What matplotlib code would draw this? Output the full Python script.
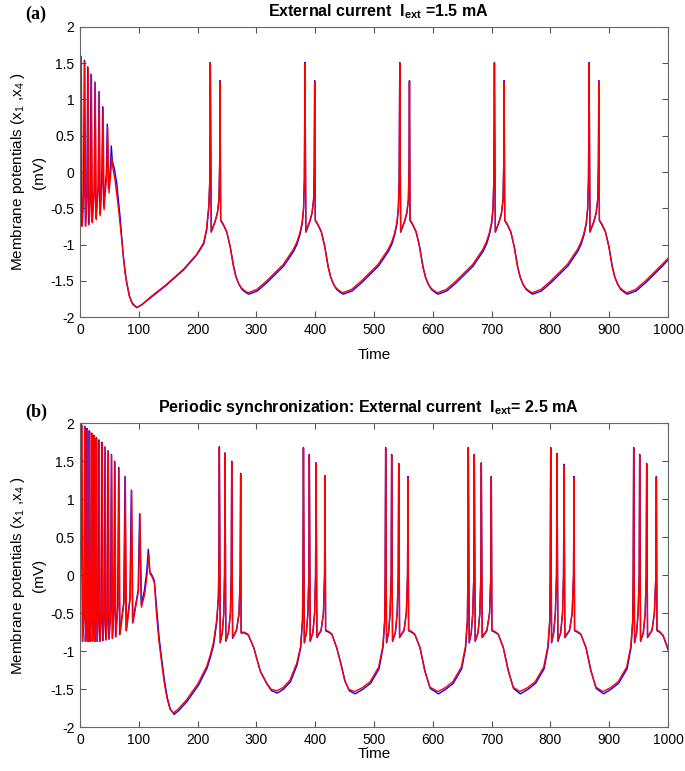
import matplotlib.pyplot as plt

plt.rcParams['font.family'] = ['Liberation Sans', 'DejaVu Sans']
plt.rcParams['mathtext.fontset'] = 'custom'
plt.rcParams['mathtext.rm'] = 'Liberation Sans'
plt.rcParams['mathtext.bf'] = 'Liberation Sans:bold'
plt.rcParams['mathtext.default'] = 'regular'
plt.rcParams['axes.unicode_minus'] = False

# panel (a): I_ext = 1.5 mA  -- (time, potential)
a_blue = [(0, -0.2), (1.1, 1.60), (2.7, -0.74), (6, -0.3), (7.4, 1.54), (9, -0.74), (11.7, -0.3), (13.1, 1.45),
          (14.7, -0.72), (17.3, -0.3), (18.7, 1.35), (20.3, -0.69), (24, -0.25), (25.5, 1.24), (27.1, -0.64),
          (30.8, -0.2), (32.3, 1.11), (33.9, -0.58), (37.1, -0.12), (38.6, 0.90), (40.2, -0.48), (44.8, -0.02),
          (46.4, 0.66), (48.2, -0.22), (51.8, 0.05), (53.2, 0.36), (55, 0.15), (58.3, 0.05), (62.4, -0.15),
          (68, -0.61), (73.6, -1.16), (79.3, -1.53), (84, -1.71), (88, -1.80), (96.4, -1.87), (105, -1.83),
          (119, -1.74), (147, -1.56), (176, -1.35), (198, -1.15), (210.5, -0.99), (215.5, -0.80), (219.2, -0.47),
          (220.8, -0.1), (221.6, 1.51),
          (223.2, -0.83), (229.6, -0.69), (233.6, -0.57), (236.4, -0.38), (237.5, 0.1), (238.2, 1.26), (239.2, -0.67),
          (243.8, -0.73), (249.6, -0.83), (255.5, -1.03), (261.5, -1.31), (265.5, -1.45), (270.3, -1.55),
          (275.5, -1.62), (281.6, -1.66), (287, -1.685), (301.6, -1.64), (318.6, -1.52), (346.6, -1.295),
          (363.6, -1.09), (369.4, -0.99), (374.2, -0.86),
          (378, -0.71), (380.3, -0.5), (381.6, -0.1), (382.6, 1.51), (384.1, -0.83), (390.6, -0.69), (394.6, -0.57),
          (397.3, -0.38), (398.4, 0.1), (399.1, 1.26), (400.1, -0.67), (404.6, -0.73), (410.5, -0.83),
          (416.4, -1.03), (422.3, -1.31), (426.5, -1.45), (431.2, -1.55), (436.5, -1.62), (442.6, -1.66),
          (447.6, -1.685),
          (462.8, -1.64), (479.8, -1.52), (507.8, -1.295), (524.8, -1.09), (530.6, -0.99), (535.4, -0.86),
          (539.2, -0.71), (541.5, -0.5), (542.8, -0.1), (543.8, 1.51), (545.3, -0.83), (551.8, -0.69), (555.8, -0.57),
          (558.5, -0.38), (559.6, 0.1), (560.3, 1.26), (561.3, -0.67), (565.8, -0.73), (571.7, -0.83),
          (577.6, -1.03), (583.5, -1.31), (587.7, -1.45), (592.4, -1.55), (597.7, -1.62), (603.8, -1.66),
          (608.8, -1.685),
          (623.8, -1.64), (640.8, -1.52), (668.8, -1.295), (685.8, -1.09), (691.6, -0.99), (696.4, -0.86),
          (700.2, -0.71), (702.5, -0.5), (703.8, -0.1), (704.8, 1.51), (706.3, -0.83), (712.8, -0.69), (716.8, -0.57),
          (719.5, -0.38), (720.6, 0.1), (721.3, 1.26), (722.3, -0.67), (726.8, -0.73), (732.7, -0.83),
          (738.6, -1.03), (744.5, -1.31), (748.7, -1.45), (753.4, -1.55), (758.7, -1.62), (764.8, -1.66),
          (769.8, -1.685),
          (784.8, -1.64), (801.8, -1.52), (829.8, -1.295), (846.8, -1.09), (852.6, -0.99), (857.4, -0.86),
          (861.2, -0.71), (863.5, -0.5), (864.8, -0.1), (865.8, 1.51), (867.3, -0.83), (873.8, -0.69), (877.8, -0.57),
          (880.5, -0.38), (881.6, 0.1), (882.3, 1.26), (883.3, -0.67), (887.8, -0.73), (893.7, -0.83),
          (899.6, -1.03), (905.5, -1.31), (909.7, -1.45), (914.4, -1.55), (919.7, -1.62), (925.8, -1.66),
          (930.8, -1.685),
          (945.8, -1.64), (962.8, -1.52), (990.8, -1.295), (1000, -1.21)]

a_red = [(0, -0.3), (2.2, 1.58), (3.8, -0.75), (6.8, -0.3), (8.2, 1.53), (9.8, -0.75), (12.4, -0.3), (13.8, 1.44),
         (15.4, -0.73), (18.1, -0.3), (19.5, 1.34), (21.1, -0.70), (24.5, -0.25), (26, 1.23), (27.6, -0.66),
         (31.2, -0.22), (32.8, 1.10), (34.4, -0.60), (37.7, -0.15), (39.3, 0.89), (40.9, -0.52), (45.3, -0.05),
         (47, 0.62), (49.3, -0.29), (52.5, 0.0), (53.9, 0.21), (56, 0.05), (59.5, -0.11), (65, -0.47),
         (70.9, -0.93), (76.5, -1.39), (83.9, -1.71), (90, -1.83), (97, -1.87), (105, -1.83), (119, -1.73),
         (147, -1.55), (176, -1.34), (198, -1.14), (210, -0.98), (215, -0.79), (219, -0.47), (220.8, -0.1),
         (221.7, 1.5),
         (223.2, -0.82), (229.6, -0.68), (233.6, -0.56), (236.4, -0.38), (237.5, 0.1), (238.2, 1.25), (239.2, -0.66),
         (243.8, -0.72), (249.4, -0.82), (255, -1.02), (260.8, -1.30), (265, -1.44), (269.3, -1.53),
         (274.5, -1.60), (280.6, -1.64), (286, -1.665),
         (300.6, -1.62), (317.6, -1.50), (345.6, -1.275), (362.6, -1.07), (368.6, -0.97), (373.6, -0.85),
         (377.6, -0.70), (380.1, -0.50), (381.6, -0.10), (382.6, 1.50), (384.1, -0.82), (390.6, -0.68),
         (394.6, -0.56), (397.3, -0.38), (398.4, 0.10), (399.1, 1.25), (400.1, -0.66), (404.6, -0.72),
         (410.3, -0.82), (415.9, -1.02), (421.6, -1.30), (425.8, -1.44), (430.2, -1.53), (435.5, -1.60),
         (441.6, -1.64), (446.6, -1.665),
         (461.8, -1.62), (478.8, -1.50), (506.8, -1.275), (523.8, -1.07), (529.8, -0.97), (534.8, -0.85),
         (538.8, -0.70), (541.3, -0.50), (542.8, -0.10), (543.8, 1.50), (545.3, -0.82), (551.8, -0.68),
         (555.8, -0.56), (558.5, -0.38), (559.6, 0.10), (560.3, 1.25), (561.3, -0.66), (565.8, -0.72),
         (571.5, -0.82), (577.1, -1.02), (582.8, -1.30), (587, -1.44), (591.4, -1.53), (596.7, -1.60),
         (602.8, -1.64), (607.8, -1.665),
         (622.8, -1.62), (639.8, -1.50), (667.8, -1.275), (684.8, -1.07), (690.8, -0.97), (695.8, -0.85),
         (699.8, -0.70), (702.3, -0.50), (703.8, -0.10), (704.8, 1.50), (706.3, -0.82), (712.8, -0.68),
         (716.8, -0.56), (719.5, -0.38), (720.6, 0.10), (721.3, 1.25), (722.3, -0.66), (726.8, -0.72),
         (732.5, -0.82), (738.1, -1.02), (743.8, -1.30), (748, -1.44), (752.4, -1.53), (757.7, -1.60),
         (763.8, -1.64), (768.8, -1.665),
         (783.8, -1.62), (800.8, -1.50), (828.8, -1.275), (845.8, -1.07), (851.8, -0.97), (856.8, -0.85),
         (860.8, -0.70), (863.3, -0.50), (864.8, -0.10), (865.8, 1.50), (867.3, -0.82), (873.8, -0.68),
         (877.8, -0.56), (880.5, -0.38), (881.6, 0.10), (882.3, 1.25), (883.3, -0.66), (887.8, -0.72),
         (893.5, -0.82), (899.1, -1.02), (904.8, -1.30), (909, -1.44), (913.4, -1.53), (918.7, -1.60),
         (924.8, -1.64), (929.8, -1.665),
         (944.8, -1.62), (961.8, -1.50), (989.8, -1.275), (1000, -1.19)]

# panel (b): I_ext = 2.5 mA
b_blue = [(0, -0.6), (2.8, 1.98), (4.0, -0.87), (6.7, -0.5), (7.9, 1.96), (9.1, -0.87), (10.9, -0.5), (11.9, 1.93),
          (13.0, -0.87), (14.8, -0.5), (15.8, 1.90), (16.9, -0.87), (18.8, -0.5), (19.8, 1.87), (20.9, -0.87),
          (22.8, -0.5), (23.8, 1.84), (24.9, -0.87), (26.7, -0.5), (27.7, 1.81), (28.9, -0.87), (31.2, -0.5),
          (32.3, 1.78), (33.6, -0.87), (36.2, -0.5), (37.4, 1.75), (38.7, -0.86), (41.3, -0.5), (42.5, 1.69),
          (43.9, -0.85), (46.4, -0.5), (47.6, 1.64), (49.0, -0.84), (52.0, -0.45), (53.3, 1.59), (54.8, -0.83),
          (57.5, -0.45), (58.9, 1.50), (60.4, -0.81), (64.1, -0.4), (65.7, 1.42), (67.4, -0.78), (74.4, -0.35),
          (76.5, 1.30), (78.4, -0.73), (84.9, -0.3), (87.3, 1.12), (89.4, -0.62), (98.9, -0.2), (101.4, 0.81),
          (104.2, -0.39), (109.5, -0.2), (113.5, 0.05), (116.2, 0.34), (118.5, 0.05), (122.4, 0.0), (126.4, -0.07),
          (130.5, -0.45), (134.5, -0.82), (138.5, -1.08), (143.5, -1.38), (148.5, -1.61), (153.5, -1.76),
          (160, -1.83), (168, -1.78), (182, -1.66), (202, -1.44), (216.2, -1.22), (222.5, -1.06), (227.4, -0.91),
          (232.8, -0.60), (235.5, -0.28),
          (236.2, 0.2), (237, 1.69), (238.5, -0.89), (242, -0.76), (244.5, -0.5), (245.8, 0.0), (246.6, 1.61),
          (248, -0.87), (252.5, -0.76), (255.8, -0.5), (257.2, 0.0), (258, 1.50), (259.5, -0.83), (266, -0.73),
          (270.5, -0.5), (272.4, 0.0), (273.2, 1.34), (274, -0.76), (280, -0.76), (286.5, -0.79), (295.8, -0.96),
          (307, -1.27), (318.5, -1.44), (326, -1.52), (335.5, -1.55), (346, -1.50), (358, -1.40), (369.2, -1.18),
          (375.4, -0.95), (378.4, -0.6), (379.2, 0.0), (380, 1.68), (381.5, -0.89), (385, -0.76), (387.5, -0.5),
          (389.2, 0.0), (390, 1.59), (391.5, -0.87), (396, -0.76), (399, -0.5), (400.6, 0.0), (401.4, 1.48),
          (402.9, -0.82), (410, -0.73), (414, -0.5), (415.9, 0.0), (416.7, 1.31), (417.7, -0.73), (423, -0.75),
          (428.5, -0.78), (436.8, -0.96), (444, -1.17), (451, -1.40), (458, -1.52), (468, -1.56),
          (481, -1.50), (494.4, -1.42), (508.6, -1.23), (515.3, -0.95), (518.3, -0.6), (519, 0.0), (519.8, 1.68),
          (521.3, -0.89), (524.8, -0.76), (527.3, -0.5), (529.2, 0.0), (530, 1.59), (531.5, -0.87), (536.3, -0.76),
          (539.4, -0.5), (541.2, 0.0), (542, 1.47), (543.5, -0.82), (551, -0.73), (555, -0.5), (557, 0.0),
          (557.8, 1.30), (558.8, -0.73), (563.8, -0.75), (569.5, -0.78), (578.5, -0.96), (587, -1.27),
          (595.7, -1.49), (609.8, -1.56),
          (622, -1.50), (635, -1.42), (649.2, -1.23), (655.9, -0.95), (658.9, -0.6), (659.6, 0.0), (660.4, 1.68),
          (661.9, -0.89), (665.4, -0.76), (667.9, -0.5), (669.8, 0.0), (670.6, 1.59), (672.1, -0.87),
          (676.9, -0.76), (680, -0.5), (681.7, 0.0), (682.5, 1.48), (684, -0.82), (692, -0.73), (696.5, -0.5),
          (698.7, 0.0), (699.5, 1.30), (700.5, -0.73), (705.5, -0.75), (711.5, -0.78), (720.2, -0.96),
          (729, -1.27), (737.4, -1.49), (748.7, -1.56),
          (762, -1.50), (775, -1.42), (789.3, -1.23), (796, -0.95), (799, -0.6), (799.7, 0.0), (800.5, 1.68),
          (802, -0.89), (805.5, -0.76), (808.4, -0.5), (810.4, 0.0), (811.2, 1.60), (812.7, -0.87), (817.5, -0.76),
          (820.6, -0.5), (822.3, 0.0), (823.1, 1.46), (824.6, -0.82), (832.5, -0.73), (837, -0.5), (839.3, 0.0),
          (840.1, 1.30), (841.1, -0.73), (846, -0.75), (852, -0.78), (860.8, -0.96), (869.5, -1.27), (878, -1.49),
          (890.5, -1.56),
          (903, -1.50), (916.2, -1.42), (930.4, -1.23), (937.1, -0.95), (940.1, -0.6), (940.8, 0.0), (941.6, 1.68),
          (943.1, -0.89), (946.6, -0.76), (949.1, -0.5), (951, 0.0), (951.8, 1.59), (953.3, -0.87), (958, -0.76),
          (961.2, -0.5), (962.9, 0.0), (963.7, 1.47), (965.2, -0.82), (972.7, -0.73), (976.8, -0.5), (979.4, 0.0),
          (980.2, 1.30), (981.2, -0.73), (986, -0.75), (992, -0.80), (1000, -0.98)]

b_red = [(0, -0.6), (3.4, 1.97), (4.6, -0.87), (7.3, -0.5), (8.5, 1.95), (9.7, -0.87), (11.5, -0.5), (12.5, 1.92),
         (13.6, -0.87), (15.4, -0.5), (16.4, 1.89), (17.5, -0.87), (19.4, -0.5), (20.4, 1.86), (21.5, -0.87),
         (23.4, -0.5), (24.4, 1.83), (25.5, -0.87), (27.3, -0.5), (28.3, 1.80), (29.5, -0.87), (31.8, -0.5),
         (32.9, 1.77), (34.2, -0.87), (36.8, -0.5), (38, 1.74), (39.3, -0.86), (41.9, -0.5), (43.1, 1.68),
         (44.5, -0.85), (47, -0.5), (48.2, 1.63), (49.6, -0.84), (52.6, -0.45), (53.9, 1.58), (55.4, -0.83),
         (58.1, -0.45), (59.5, 1.49), (61, -0.81), (64.7, -0.4), (66.3, 1.41), (68, -0.78), (75, -0.35),
         (77.1, 1.29), (79, -0.73), (85.5, -0.3), (87.9, 1.11), (90, -0.63), (99.5, -0.2), (102, 0.80),
         (104.5, -0.42), (110, -0.25), (114, 0.0), (117, 0.28), (119, 0.02), (122.5, -0.02), (126.5, -0.1),
         (130, -0.5), (134, -0.85), (138, -1.1), (143, -1.4), (148, -1.62), (153, -1.76), (159, -1.81),
         (167, -1.76), (181, -1.64), (201, -1.42), (215.4, -1.20), (221.5, -1.05), (226.8, -0.89), (232.4, -0.59),
         (235.3, -0.28), (236.2, 0.2),
         (237, 1.68), (238.5, -0.88), (242, -0.75), (244.5, -0.5), (245.8, 0.0), (246.6, 1.60), (248, -0.86),
         (252.5, -0.75), (255.8, -0.5), (257.2, 0.0), (258, 1.49), (259.5, -0.82), (266, -0.72), (270.5, -0.5),
         (272.4, 0.0), (273.2, 1.33), (274, -0.75), (280, -0.75), (286, -0.78), (295, -0.94), (306, -1.25),
         (317.5, -1.42), (325, -1.50), (334.5, -1.52), (345, -1.48), (357, -1.38), (368.5, -1.16), (375, -0.94),
         (378.3, -0.59), (379.2, 0.0), (380, 1.67), (381.5, -0.88), (385, -0.75), (387.5, -0.5), (389.2, 0.0),
         (390, 1.58), (391.5, -0.86), (396, -0.75), (399, -0.5), (400.6, 0.0), (401.4, 1.47), (402.9, -0.81),
         (410, -0.72), (414, -0.5), (415.9, 0.0), (416.7, 1.30), (417.7, -0.72), (423, -0.74), (428, -0.77),
         (436, -0.94), (443, -1.15), (450, -1.38), (457, -1.50), (467, -1.53),
         (480, -1.48), (493.4, -1.40), (507.8, -1.21), (514.8, -0.94), (518.1, -0.59), (519, 0.0), (519.8, 1.67),
         (521.3, -0.88), (524.8, -0.75), (527.3, -0.5), (529.2, 0.0), (530, 1.58), (531.5, -0.86), (536.3, -0.75),
         (539.4, -0.5), (541.2, 0.0), (542, 1.46), (543.5, -0.81), (551, -0.72), (555, -0.5), (557, 0.0),
         (557.8, 1.29), (558.8, -0.72), (563.8, -0.74), (569, -0.77), (577.7, -0.94), (586, -1.25), (594.7, -1.47),
         (608.8, -1.53),
         (621, -1.48), (634, -1.40), (648.4, -1.21), (655.4, -0.94), (658.7, -0.59), (659.6, 0.0), (660.4, 1.67),
         (661.9, -0.88), (665.4, -0.75), (667.9, -0.5), (669.8, 0.0), (670.6, 1.58), (672.1, -0.86), (676.9, -0.75),
         (680, -0.5), (681.7, 0.0), (682.5, 1.47), (684, -0.81), (692, -0.72), (696.5, -0.5), (698.7, 0.0),
         (699.5, 1.29), (700.5, -0.72), (705.5, -0.74), (711, -0.77), (719.4, -0.94), (728, -1.25), (736.4, -1.47),
         (747.7, -1.53),
         (761, -1.48), (774, -1.40), (788.5, -1.21), (795.5, -0.94), (798.8, -0.59), (799.7, 0.0), (800.5, 1.67),
         (802, -0.88), (805.5, -0.75), (808.4, -0.5), (810.4, 0.0), (811.2, 1.59), (812.7, -0.86), (817.5, -0.75),
         (820.6, -0.5), (822.3, 0.0), (823.1, 1.45), (824.6, -0.81), (832.5, -0.72), (837, -0.5), (839.3, 0.0),
         (840.1, 1.29), (841.1, -0.72), (846, -0.74), (851.5, -0.77), (860, -0.94), (868.5, -1.25), (877, -1.47),
         (889.5, -1.53),
         (902, -1.48), (915.2, -1.40), (929.6, -1.21), (936.6, -0.94), (939.9, -0.59), (940.8, 0.0), (941.6, 1.67),
         (943.1, -0.88), (946.6, -0.75), (949.1, -0.5), (951, 0.0), (951.8, 1.58), (953.3, -0.86), (958, -0.75),
         (961.2, -0.5), (962.9, 0.0), (963.7, 1.46), (965.2, -0.81), (972.7, -0.72), (976.8, -0.5), (979.4, 0.0),
         (980.2, 1.29), (981.2, -0.72), (986, -0.74), (991.5, -0.79), (1000, -0.96)]

xticks = [0, 100, 200, 300, 400, 500, 600, 700, 800, 900, 1000]
yticks = [-2, -1.5, -1, -0.5, 0, 0.5, 1, 1.5, 2]
ytick_labels = ['-2', '-1.5', '-1', '-0.5', '0', '0.5', '1', '1.5', '2']
titles = ['External current  I$_{\\mathbf{ext}}$ =1.5 mA',
          'Periodic synchronization: External current  I$_{\\mathbf{ext}}$= 2.5 mA']
tags = ['(a)', '(b)']
ylabel = 'Membrane potentials (x$_1$ ,x$_4$ )\n(mV)'

fig = plt.figure(figsize=(6.85, 7.71), dpi=100)
ax_a = fig.add_axes([0.1168, 0.5888, 0.8584, 0.3762])
ax_b = fig.add_axes([0.1168, 0.0567, 0.8584, 0.3944])

panels = [(ax_a, a_blue, a_red, 8, 1.042, 0.508), (ax_b, b_blue, b_red, 0, 1.037, 0.49)]
for i, (ax, blue, red, lpad, tag_y, title_x) in enumerate(panels):
    ax.plot([p[0] for p in blue], [p[1] for p in blue], color='#0000ff', lw=1.0)
    ax.plot([p[0] for p in red], [p[1] for p in red], color='#ff0000', lw=1.0)
    ax.set_xlim(0, 1000)
    ax.set_ylim(-2, 2)
    ax.set_xticks(xticks)
    ax.set_yticks(yticks)
    ax.set_yticklabels(ytick_labels)
    ax.tick_params(direction='in', top=True, right=True, length=4, width=0.8,
                   color='#555555', labelsize=10, pad=4)
    for sp in ax.spines.values():
        sp.set_color('#666666')
        sp.set_linewidth(0.8)
    ax.set_xlabel('Time', fontsize=11, labelpad=lpad)
    ax.set_ylabel(ylabel, fontsize=11, labelpad=3, linespacing=1.5)
    ax.set_title(titles[i], fontsize=11.5, fontweight='bold', pad=8, x=title_x)
    ax.text(-0.075, tag_y, tags[i], transform=ax.transAxes, fontsize=13, fontweight='bold',
            family=['Liberation Serif', 'DejaVu Serif'], ha='center', va='center')

fig.savefig('out.png', dpi=100)
